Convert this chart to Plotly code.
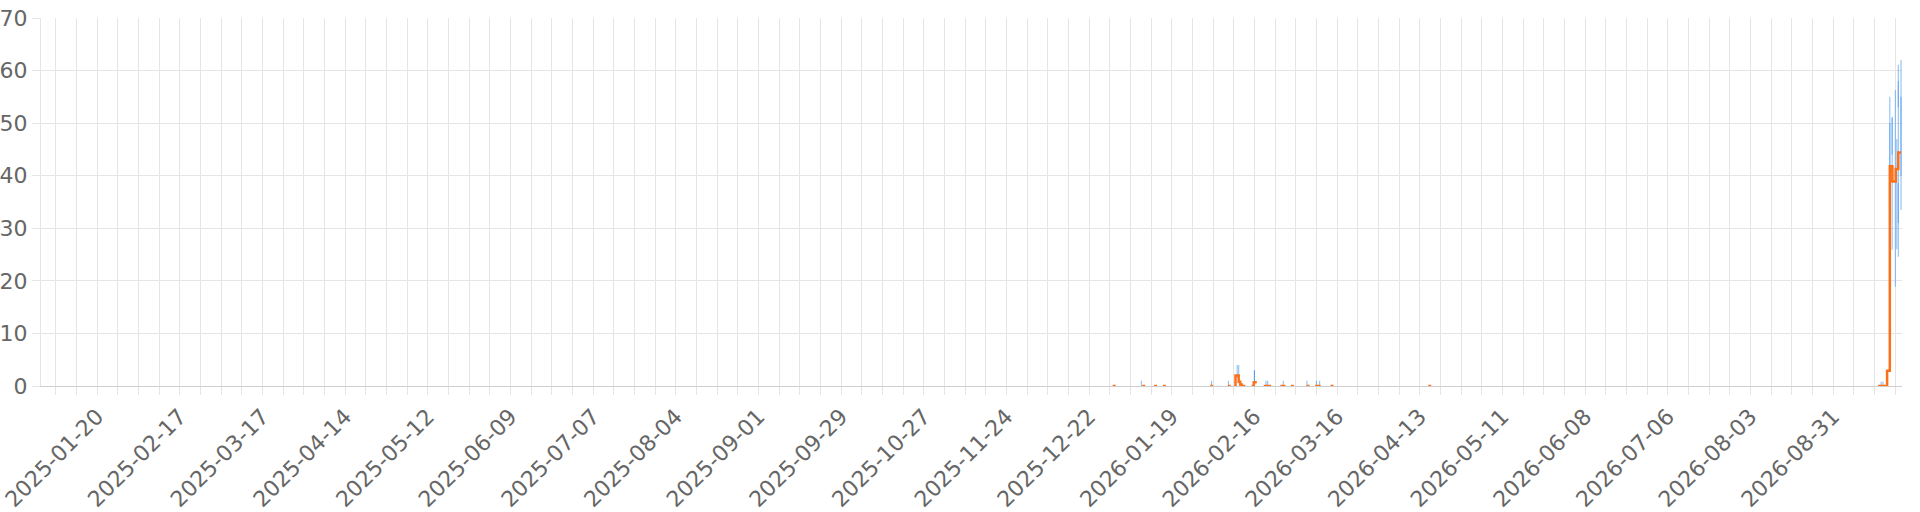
import plotly.graph_objects as go

DAY_MS = 86400000

# orange daily series (None = gap in the data)
orange_time = [
    "2025-12-30", "2025-12-31", "2026-01-01",
    "2026-01-09", "2026-01-10", "2026-01-11",
    "2026-01-13", "2026-01-14", "2026-01-15",
    "2026-01-16", "2026-01-17", "2026-01-18",
    "2026-02-01", "2026-02-02", "2026-02-03",
    "2026-02-07", "2026-02-08", "2026-02-08 12:00",
    "2026-02-09 06:00", "2026-02-09 14:00", "2026-02-10 16:00", "2026-02-11 04:00",
    "2026-02-11 16:00", "2026-02-12 22:00", "2026-02-13 12:00",
    "2026-02-15 02:00", "2026-02-15 19:00", "2026-02-16 19:00", "2026-02-17 06:00",
    "2026-02-19 04:00", "2026-02-20 12:00", "2026-02-21 16:00", "2026-02-22 06:00",
    "2026-02-24 19:00", "2026-02-26 12:00", "2026-02-27",
    "2026-02-28 08:00", "2026-03-01 08:00", "2026-03-02",
    "2026-03-05 16:00", "2026-03-06 16:00", "2026-03-07",
    "2026-03-08 14:00", "2026-03-10 10:00", "2026-03-11",
    "2026-03-13 19:00", "2026-03-14 19:00", "2026-03-15",
    "2026-04-15 21:00", "2026-04-16 21:00", "2026-04-17 06:00",
    "2026-09-15 05:00", "2026-09-16", "2026-09-17", "2026-09-18 07:00",
    "2026-09-19 05:00", "2026-09-20 02:00", "2026-09-21 05:00", "2026-09-22 02:00",
    "2026-09-23",
]
orange_value = [
    0, 0, None,
    0, 0, None,
    0, 0, None,
    0, 0, None,
    0, 0, None,
    0, 0, None,
    0, 2.0, 0.8, 0.3,
    0, 0, None,
    0, 0.7, 0.7, None,
    0, 0, 0, None,
    0, 0, None,
    0, 0, None,
    0, 0, None,
    0, 0, None,
    0, 0, None,
    0, 0, None,
    0, 0, 0, 2.9,
    41.8, 38.9, 41.3, 44.4,
    44.4,
]

# blue range bars (overlapping bars give the darker shade)
blue_time = [
    "2026-01-08 17:00", "2026-02-01 11:00", "2026-02-07 05:00",
    "2026-02-10 04:00", "2026-02-10 16:00",
    "2026-02-16", "2026-02-16",
    "2026-02-19 22:00", "2026-02-20 12:00", "2026-02-25 19:00",
    "2026-03-05 19:00", "2026-03-09", "2026-03-10 02:00",
    "2026-09-16 07:00", "2026-09-16 22:00",
    "2026-09-19 05:00", "2026-09-19 05:00",
    "2026-09-20", "2026-09-20",
    "2026-09-21 02:00", "2026-09-21 14:00",
    "2026-09-22 02:00", "2026-09-22 02:00", "2026-09-22 02:00",
    "2026-09-23", "2026-09-23",
]
blue_low = [
    0, 0, 0,
    1.5, 1.5,
    0.8, 0.8,
    0, 0, 0,
    0, 0, 0,
    0, 0,
    24.0, 42.0,
    25.9, 44.0,
    18.9, 26.0,
    24.6, 53.0, 31.0,
    33.5, 40.0,
]
blue_high = [
    1.0, 1.0, 1.0,
    4.0, 4.0,
    3.0, 3.0,
    1.0, 1.0, 1.0,
    1.0, 1.0, 1.0,
    0.8, 0.8,
    55.0, 50.0,
    51.2, 51.0,
    56.3, 47.0,
    61.1, 58.0, 38.6,
    62.0, 55.0,
]

y_ticks = [0, 10, 20, 30, 40, 50, 60, 70]

GRID = "#e5e5e5"
TEXT = "#666666"

fig = go.Figure()

fig.add_trace(go.Bar(
    x=blue_time,
    y=[h - l for h, l in zip(blue_high, blue_low)],
    base=blue_low,
    width=9 * 3600 * 1000,
    marker=dict(color="rgba(54, 140, 240, 0.55)", line=dict(width=0)),
    hoverinfo="skip",
))

fig.add_trace(go.Scatter(
    x=orange_time,
    y=orange_value,
    mode="lines",
    line=dict(color="#fb7018", width=2.5, shape="hv"),
    connectgaps=False,
))

fig.update_layout(
    width=1920,
    height=512,
    margin=dict(l=41, r=18, t=18, b=126),
    paper_bgcolor="white",
    plot_bgcolor="white",
    showlegend=False,
    barmode="overlay",
    font=dict(family="DejaVu Sans", size=21, color=TEXT),
)

fig.update_xaxes(
    type="date",
    automargin=False,
    range=["2025-01-01", "2026-09-23 08:00"],
    tick0="2025-01-20",
    dtick=28 * DAY_MS,
    tickformat="%Y-%m-%d",
    tickangle=-45,
    tickfont=dict(family="DejaVu Sans", size=22, color=TEXT),
    showgrid=True,
    gridcolor=GRID,
    ticks="outside",
    ticklen=8,
    tickcolor=GRID,
    minor=dict(
        tick0="2025-01-06",
        dtick=7 * DAY_MS,
        showgrid=True,
        gridcolor=GRID,
        ticks="outside",
        ticklen=8,
        tickcolor=GRID,
    ),
    showline=True,
    linecolor="#cfcfcf",
    zeroline=False,
)

fig.update_yaxes(
    automargin=False,
    range=[0, 70],
    tickvals=y_ticks,
    showgrid=True,
    gridcolor=GRID,
    ticks="outside",
    ticklen=8,
    tickcolor=GRID,
    tickfont=dict(family="DejaVu Sans", size=22, color=TEXT),
    showline=True,
    linecolor=GRID,
    zeroline=False,
)

# the page's default 8px body margin would push the fixed-size figure off the window
fig.write_html(
    "out.html",
    config={"displayModeBar": False},
    post_script="document.body.style.margin = '0';",
)
